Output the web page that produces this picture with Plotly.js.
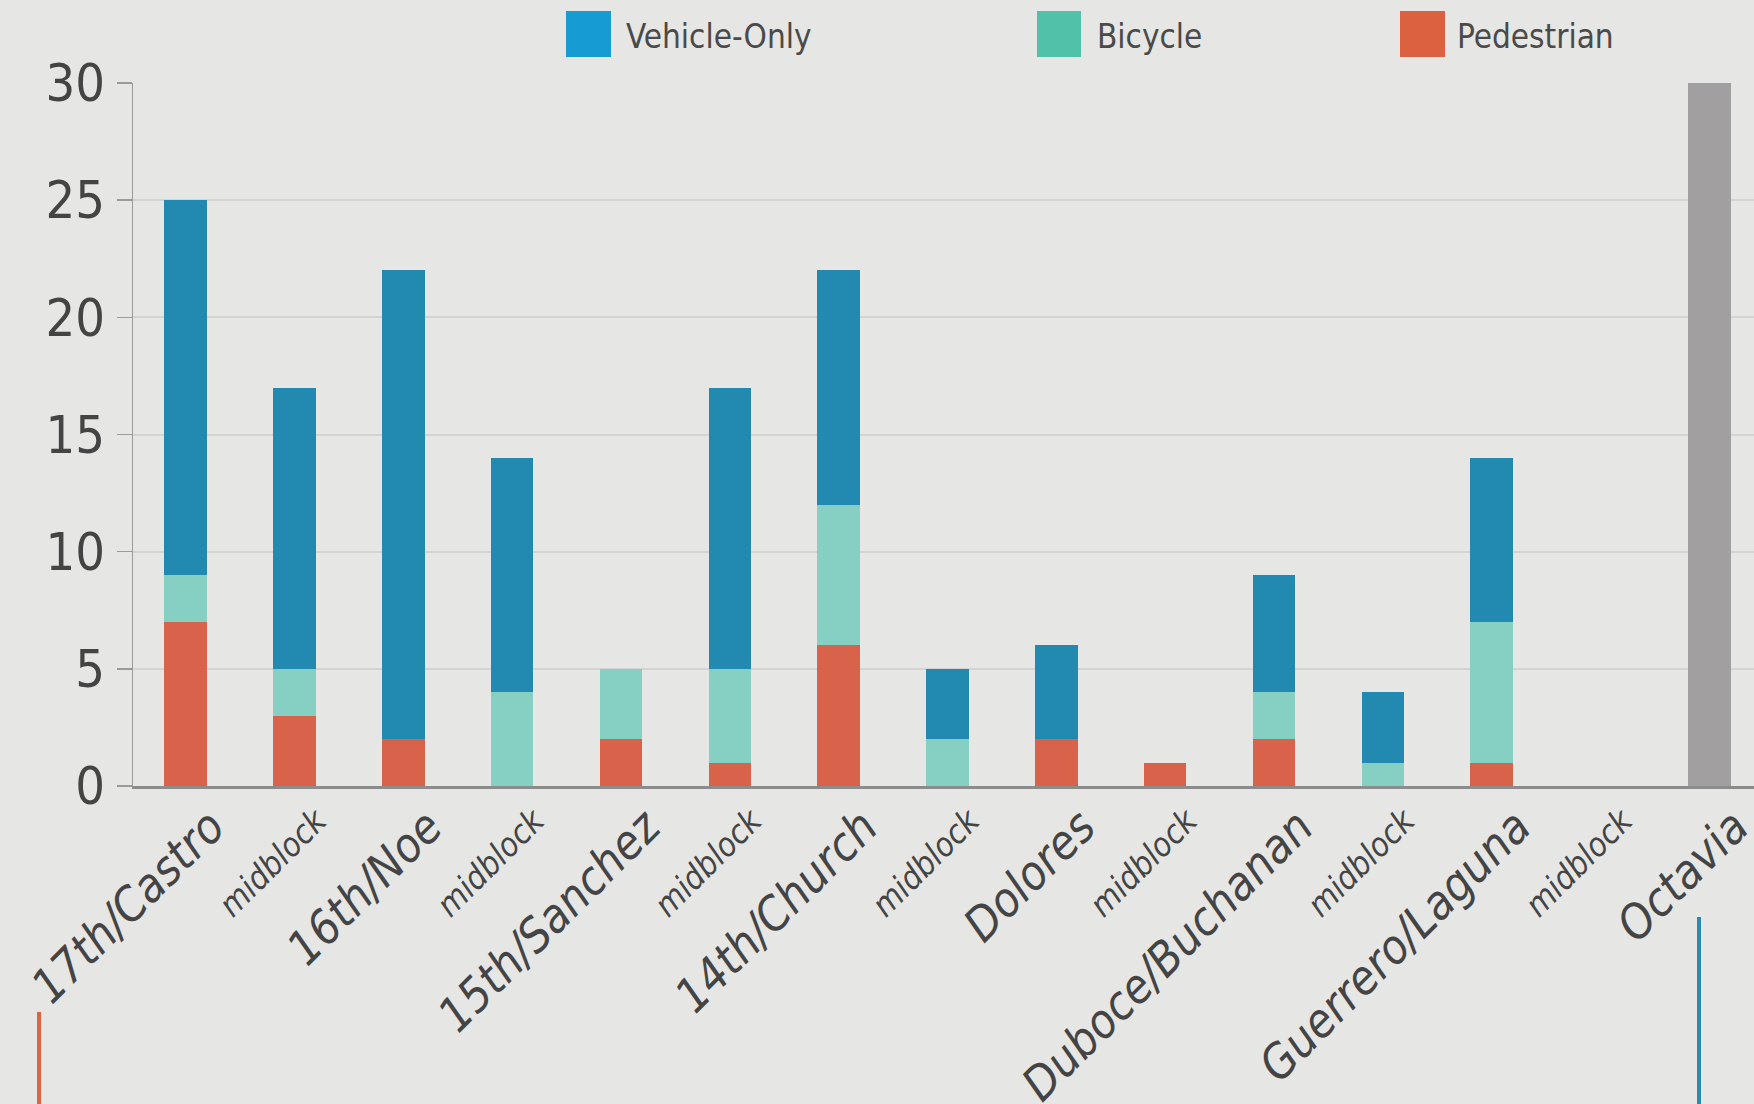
<!DOCTYPE html>
<html><head><meta charset="utf-8">
<script src="https://cdn.plot.ly/plotly-3.0.1.min.js"></script>
<style>html,body{margin:0;padding:0;background:#e6e6e4;}</style>
</head><body><div id="chart" style="width:1754px;height:1104px;"></div>
<script>
// ---- data ----
const categories = ["17th/Castro","midblock","16th/Noe","midblock","15th/Sanchez","midblock","14th/Church","midblock","Dolores","midblock","Duboce/Buchanan","midblock","Guerrero/Laguna","midblock","Octavia"];
const pedestrian  = [7, 3, 2, 0, 2, 1, 6, 0, 2, 1, 2, 0, 1, 0, 0];
const bicycle     = [2, 2, 0, 4, 3, 4, 6, 2, 0, 0, 2, 1, 6, 0, 0];
const vehicleOnly = [16,12,20,10, 0,12,10, 3, 4, 0, 5, 3, 7, 0, 0];
const boundary    = [0, 0, 0, 0, 0, 0, 0, 0, 0, 0, 0, 0, 0, 0, 30];
const seriesNames = ["Vehicle-Only","Bicycle","Pedestrian"];
const yTicks = [0,5,10,15,20,25,30];

// ---- styling ----
const FONT = '"DejaVu Sans Condensed","Liberation Sans Narrow",sans-serif';
const barColors = {ped:"#d8624a", bike:"#86d0c3", veh:"#228ab1", gray:"#a19fa0"};
const legendColors = ["#179cd2","#52c1aa","#dc6141"];
const xIdx = categories.map((_, i) => i);
const majorIdx = xIdx.filter(i => categories[i] !== "midblock");
const minorIdx = xIdx.filter(i => categories[i] === "midblock");

const common = {type:"bar", x:xIdx, showlegend:false, hoverinfo:"y"};
const traces = [
  Object.assign({}, common, {name:seriesNames[2], y:pedestrian, marker:{color:barColors.ped, line:{width:0}}}),
  Object.assign({}, common, {name:seriesNames[1], y:bicycle, marker:{color:barColors.bike, line:{width:0}}}),
  Object.assign({}, common, {name:seriesNames[0], y:vehicleOnly, marker:{color:barColors.veh, line:{width:0}}}),
  // boundary marker drawn on the overlaying axis that carries the "midblock" labels
  Object.assign({}, common, {name:"Octavia", y:boundary, xaxis:"x2", marker:{color:barColors.gray, line:{width:0}}})
];

const W = 1754, H = 1104, L = 133, T = 83, B = 318;
const PW = W - L, PH = H - T - B;
const px = x => (x - L) / PW;
const py = y => (H - B - y) / PH;

// manual legend (large swatches)
const legendItems = [
  {sx0:566, sx1:611, tx:624},
  {sx0:1037, sx1:1081, tx:1095},
  {sx0:1400, sx1:1445, tx:1455}
];
const shapes = [];
const annotations = [];
legendItems.forEach((it, i) => {
  shapes.push({type:"rect", xref:"paper", yref:"paper",
    x0:px(it.sx0), x1:px(it.sx1), y0:py(57), y1:py(11),
    fillcolor:legendColors[i], line:{width:0}, layer:"above"});
  annotations.push({xref:"paper", yref:"paper", x:px(it.tx), y:py(36),
    xanchor:"left", yanchor:"middle", showarrow:false, text:seriesNames[i],
    font:{family:FONT, size:33, color:"#4a4a4a"}});
});
// decorative vertical strokes below the axis
shapes.push({type:"line", xref:"paper", yref:"paper", x0:px(39), x1:px(39),
  y0:py(1104), y1:py(1012), line:{color:"#e0623f", width:4}});
shapes.push({type:"line", xref:"paper", yref:"paper", x0:px(1699), x1:px(1699),
  y0:py(1104), y1:py(917), line:{color:"#2a8ab2", width:4}});

const xRange = [-0.484, 14.41];
const layout = {
  width:W, height:H,
  margin:{l:L, r:0, t:T, b:B},
  paper_bgcolor:"#e6e6e4", plot_bgcolor:"#e6e6e4",
  barmode:"stack", bargap:0.61,
  showlegend:false,
  font:{family:FONT, color:"#444"},
  xaxis:{
    range:xRange, tickmode:"array", tickvals:majorIdx, ticktext:majorIdx.map(i => categories[i]),
    tickangle:-45, tickfont:{family:FONT, size:47, color:"#444", style:"italic"},
    showline:true, linecolor:"#8c8c8c", linewidth:2.5, ticks:"", showgrid:false,
    zeroline:false, ticklabelstandoff:-8, ticklabelshift:25, ticklabeloverflow:"allow"
  },
  xaxis2:{
    overlaying:"x", anchor:"y", side:"bottom",
    range:xRange, tickmode:"array", tickvals:minorIdx, ticktext:minorIdx.map(i => categories[i]),
    tickangle:-45, tickfont:{family:FONT, size:33, color:"#444", style:"italic"},
    showline:false, ticks:"", showgrid:false, zeroline:false,
    ticklabelstandoff:8, ticklabelshift:22, ticklabeloverflow:"allow"
  },
  yaxis:{
    range:[0,30], tickmode:"array", tickvals:yTicks, ticktext:yTicks.map(String),
    tickfont:{family:FONT, size:52, color:"#444"},
    showline:true, linecolor:"#9a9a9a", linewidth:1.5,
    ticks:"outside", ticklen:15, tickcolor:"#9a9a9a", tickwidth:1.5,
    showgrid:true, gridcolor:"#d3d3d1", gridwidth:2, zeroline:false,
    ticklabelstandoff:1
  },
  shapes:shapes, annotations:annotations
};
Plotly.newPlot("chart", traces, layout, {displayModeBar:false, staticPlot:true});
</script></body></html>
